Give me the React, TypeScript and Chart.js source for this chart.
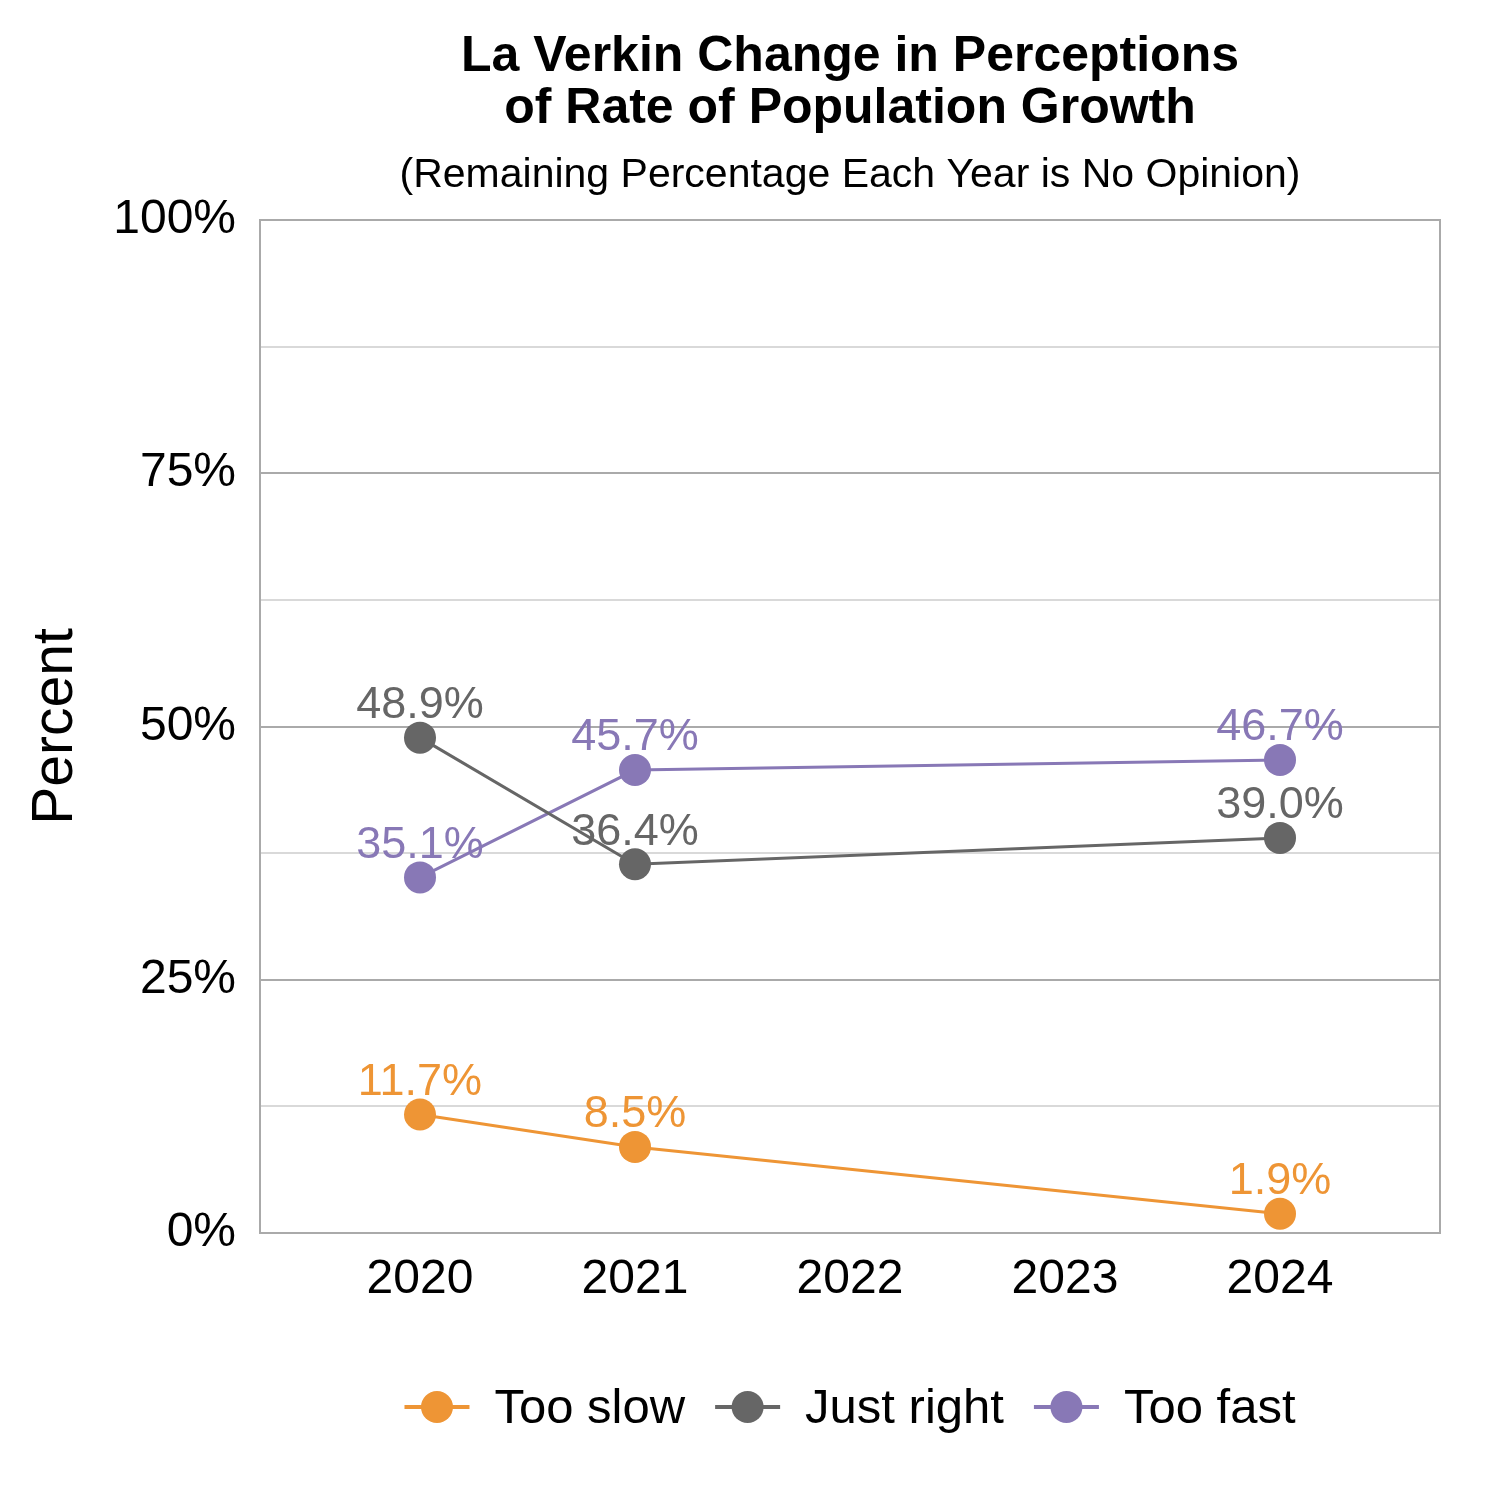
import { useEffect, useRef } from "react";
import Chart from "chart.js/auto";

const years: number[] = [2020, 2021, 2022, 2023, 2024];
const seriesNames: string[] = ["Too slow", "Just right", "Too fast"];
const seriesColors: string[] = ["#EE9535", "#666666", "#8878B6"];
const seriesYears: number[] = [2020, 2021, 2024];
const tooSlow: number[] = [11.7, 8.5, 1.9];
const justRight: number[] = [48.9, 36.4, 39.0];
const tooFast: number[] = [35.1, 45.7, 46.7];
const yTicks: number[] = [0, 12.5, 25, 37.5, 50, 62.5, 75, 87.5, 100];
const titleLines: string[] = ["La Verkin Change in Perceptions", "of Rate of Population Growth"];
const subtitle = "(Remaining Percentage Each Year is No Opinion)";

const FONT = "Arial, 'Liberation Sans', sans-serif";

const decorPlugin = {
    id: "decor",
    beforeDatasetsDraw(chart: any) {
        const ctx = chart.ctx;
        ctx.save();
        ctx.font = `45px ${FONT}`;
        ctx.textAlign = "center";
        ctx.textBaseline = "middle";
        chart.data.datasets.forEach((ds: any, i: number) => {
            const meta = chart.getDatasetMeta(i);
            ctx.fillStyle = ds.borderColor;
            meta.data.forEach((pt: any, j: number) => {
                ctx.fillText(ds.data[j].y.toFixed(1) + "%", pt.x, pt.y - 32);
            });
        });
        ctx.restore();
    },
    afterDraw(chart: any) {
        const ctx = chart.ctx;
        const area = chart.chartArea;
        const cx = (area.left + area.right) / 2;
        ctx.save();
        // frame
        ctx.strokeStyle = "#AAAAAA";
        ctx.lineWidth = 2;
        ctx.strokeRect(area.left, area.top, area.right - area.left, area.bottom - area.top);
        // titles
        ctx.fillStyle = "#000";
        ctx.textAlign = "center";
        ctx.textBaseline = "middle";
        ctx.font = `bold 50px ${FONT}`;
        ctx.fillText(titleLines[0], cx, 57);
        ctx.fillText(titleLines[1], cx, 109);
        ctx.font = `41px ${FONT}`;
        ctx.fillText(subtitle, cx, 176);
        // legend
        ctx.font = `49px ${FONT}`;
        const lineW = 65;
        const gap = 25;
        const itemGap = 30;
        const widths = seriesNames.map((n) => lineW + gap + ctx.measureText(n).width);
        const total = widths.reduce((a, b) => a + b, 0) + itemGap * (seriesNames.length - 1);
        let x = cx - total / 2;
        const y = 1407;
        seriesNames.forEach((n, i) => {
            ctx.strokeStyle = seriesColors[i];
            ctx.fillStyle = seriesColors[i];
            ctx.lineWidth = 4;
            ctx.beginPath();
            ctx.moveTo(x, y);
            ctx.lineTo(x + lineW, y);
            ctx.stroke();
            ctx.beginPath();
            ctx.arc(x + lineW / 2, y, 16, 0, Math.PI * 2);
            ctx.fill();
            ctx.fillStyle = "#000";
            ctx.textAlign = "left";
            ctx.fillText(n, x + lineW + gap, y + 2);
            x += widths[i] + itemGap;
        });
        ctx.restore();
    },
};

export default function App() {
    const canvasRef: any = useRef(null);

    useEffect(() => {
        document.body.style.margin = "0";
        const seriesData = [tooSlow, justRight, tooFast];
        const chart = new Chart(canvasRef.current.getContext("2d"), {
            type: "line",
            data: {
                datasets: seriesNames.map((name, i) => ({
                    label: name,
                    data: seriesData[i].map((v, j) => ({ x: seriesYears[j], y: v })),
                    borderColor: seriesColors[i],
                    backgroundColor: seriesColors[i],
                    borderWidth: 3,
                    pointRadius: 16,
                    pointHoverRadius: 16,
                    pointBorderWidth: 0,
                    tension: 0,
                })),
            },
            options: {
                animation: false,
                responsive: false,
                devicePixelRatio: 1,
                layout: { padding: { left: 0, right: 60, top: 220, bottom: 0 } },
                plugins: {
                    legend: { display: false },
                    tooltip: { enabled: false },
                },
                scales: {
                    x: {
                        type: "linear",
                        min: years[0] - 160 / 215,
                        max: years[years.length - 1] + 160 / 215,
                        afterBuildTicks: (scale: any) => {
                            scale.ticks = years.map((v) => ({ value: v }));
                        },
                        afterFit: (scale: any) => {
                            scale.height = 267;
                        },
                        grid: { display: false, drawTicks: false },
                        border: { display: false },
                        ticks: {
                            padding: 18,
                            color: "#000",
                            font: { family: FONT, size: 48 },
                            callback: (v: any) => String(v),
                            autoSkip: false,
                            maxRotation: 0,
                        },
                    },
                    y: {
                        min: 0,
                        max: 100,
                        afterBuildTicks: (scale: any) => {
                            scale.ticks = yTicks.map((v) => ({ value: v }));
                        },
                        afterFit: (scale: any) => {
                            scale.width = 260;
                        },
                        grid: {
                            drawTicks: false,
                            lineWidth: 2,
                            color: (c: any) => (c.tick && c.tick.value % 25 === 0 ? "#AAAAAA" : "#D9D9D9"),
                        },
                        border: { display: false },
                        ticks: {
                            padding: 24,
                            color: "#000",
                            font: { family: FONT, size: 48 },
                            callback: (v: any) => (Number(v) % 25 === 0 ? v + "%" : ""),
                            autoSkip: false,
                        },
                        title: {
                            display: true,
                            text: "Percent",
                            color: "#000",
                            font: { family: FONT, size: 57 },
                            padding: { top: 22, bottom: 0 },
                        },
                    },
                },
            } as any,
            plugins: [decorPlugin],
        });
        return () => {
            chart.destroy();
        };
    }, []);

    return (
        <div style={{ width: 1500, height: 1500, background: "#fff" }}>
            <canvas ref={canvasRef} width={1500} height={1500} />
        </div>
    );
}
